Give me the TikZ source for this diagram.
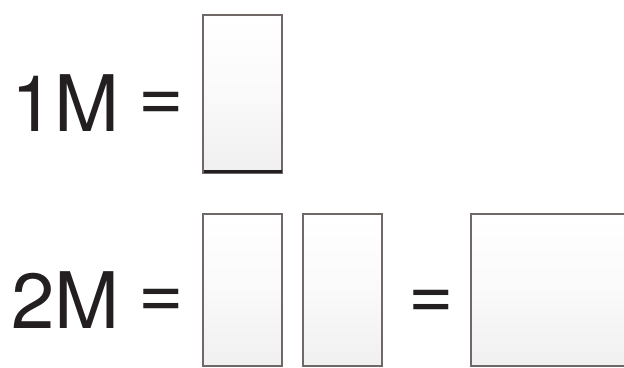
\documentclass[tikz,border=0pt]{standalone}
\usepackage{fontspec}
\setmainfont{TeX Gyre Heros}
\definecolor{frame}{RGB}{112,104,102}
\definecolor{ink}{RGB}{35,31,32}

\tikzset{
  lbl/.style={anchor=base west, inner sep=0pt, text=ink, font=\fontsize{78}{80}\selectfont},
  modbox/.style={draw=frame, line width=1.4pt, top color=white, bottom color=gray!12, middle color=white!96!gray}
}

\begin{document}
\begin{tikzpicture}[x=1pt,y=-1pt]
\useasboundingbox (0,0) rectangle (624,367);
\clip (0,0) rectangle (624,367);

% first row
\node[lbl] (one) at (11,131) {1M};
\node[lbl] (eqa) at (138,121) {=};
\draw[modbox] (203,15) rectangle (282,173);
\draw[ink, line width=3.2pt] (203.5,171.5) -- (281.5,171.5);

% second row
\node[lbl] (two) at (11,328) {2M};
\node[lbl] (eqb) at (138,318) {=};
\draw[modbox] (203,214) rectangle (282,366);
\draw[modbox] (303,214) rectangle (382,366);
\node[lbl] (eqc) at (408,319) {=};
\draw[modbox] (471,214) rectangle (630,366);

\end{tikzpicture}
\end{document}
